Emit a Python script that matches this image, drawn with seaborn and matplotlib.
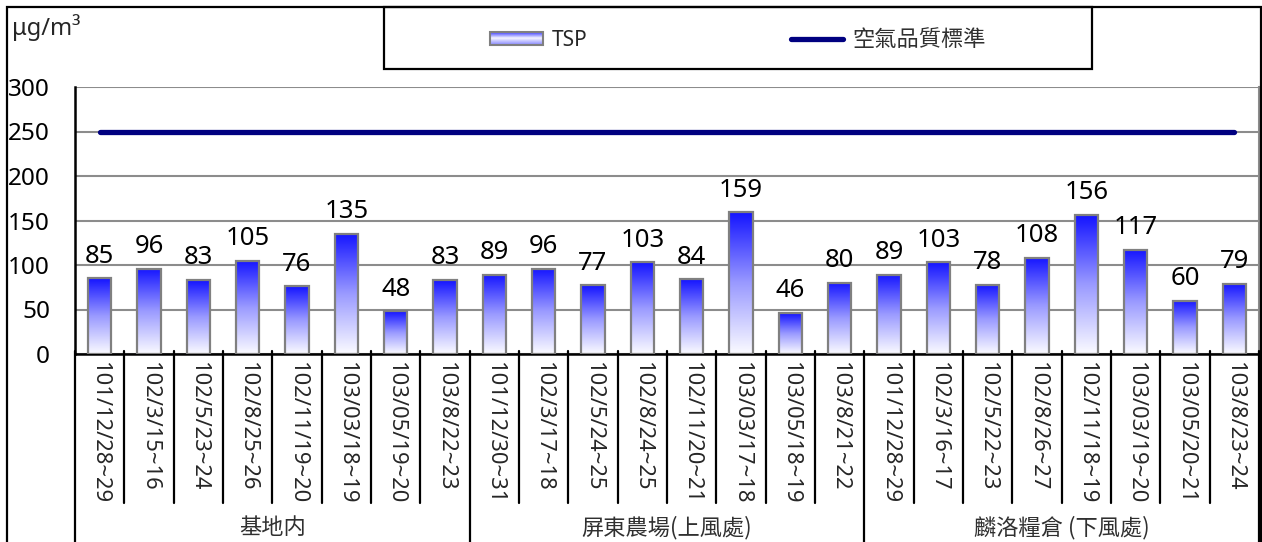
import numpy as np
import pandas as pd
import matplotlib
matplotlib.use("Agg")
import matplotlib.pyplot as plt
import seaborn as sns
from matplotlib.colors import LinearSegmentedColormap, to_rgb
from matplotlib.patches import Rectangle, Patch
from matplotlib.lines import Line2D
from matplotlib.legend_handler import HandlerBase
import matplotlib.transforms as mtransforms

# ---------------- data ----------------
dates = ["101/12/28~29", "102/3/15~16", "102/5/23~24", "102/8/25~26", "102/11/19~20",
         "103/03/18~19", "103/05/19~20", "103/8/22~23",
         "101/12/30~31", "102/3/17~18", "102/5/24~25", "102/8/24~25", "102/11/20~21",
         "103/03/17~18", "103/05/18~19", "103/8/21~22",
         "101/12/28~29", "102/3/16~17", "102/5/22~23", "102/8/26~27", "102/11/18~19",
         "103/03/19~20", "103/05/20~21", "103/8/23~24"]
tsp = [85, 96, 83, 105, 76, 135, 48, 83,
       89, 96, 77, 103, 84, 159, 46, 80,
       89, 103, 78, 108, 156, 117, 60, 79]
groups = ["基地内", "屏東農場(上風處)", "麟洛糧倉 (下風處)"]
group_sizes = [8, 8, 8]
standard_value = 250
standard = [standard_value] * len(tsp)
yticks = [0, 50, 100, 150, 200, 250, 300]
unit_label = "μg/m³"
legend_labels = ["TSP", "空氣品質標準"]

# ---------------- style ----------------
sns.set_style("white")
plt.rcParams["font.family"] = ["Noto Sans", "Noto Sans CJK TC", "DejaVu Sans"]
CJK = ["Noto Sans CJK TC", "DejaVu Sans"]

W, H = 1262, 542
fig = plt.figure(figsize=(W / 100, H / 100), dpi=100)
ax_l, ax_r, ax_t, ax_b = 75, 1259, 87, 354
ax = fig.add_axes([ax_l / W, 1 - ax_b / H, (ax_r - ax_l) / W, (ax_b - ax_t) / H])

df = pd.DataFrame({"idx": np.arange(len(tsp)), "TSP": tsp})
sns.barplot(data=df, x="idx", y="TSP", ax=ax, color="#3030ff",
            edgecolor="#808080", linewidth=1.6, width=0.47, zorder=3)

# gradient fill for bars
cmap = LinearSegmentedColormap.from_list("g", ["#fbfbff", "#9a9aff", "#1414ff"])
grad = np.linspace(0, 1, 256).reshape(-1, 1)
for p in ax.patches:
    x, y = p.get_x(), p.get_y()
    w, h = p.get_width(), p.get_height()
    im = ax.imshow(grad, extent=[x, x + w, y, y + h], origin="lower", aspect="auto",
                   cmap=cmap, zorder=2.9, interpolation="bilinear")
    im.set_clip_path(p)
    p.set_facecolor("none")

ax.bar_label(ax.containers[0], labels=[str(v) for v in tsp], padding=7, fontsize=18.5,
             color="black")

sns.lineplot(x=np.arange(len(standard)), y=standard, ax=ax, color="#000080",
             linewidth=3.8, zorder=4)

n = len(tsp)
ax.set_xlim(-0.5, n - 0.5)
ax.set_ylim(0, 300)
ax.set_yticks(yticks)
ax.set_yticklabels([str(v) for v in yticks], fontsize=17.5)
ax.set_xticks(np.arange(n))
ax.set_xticklabels(dates, rotation=270, fontsize=15.8)
ax.set_xlabel("")
ax.set_ylabel("")
ax.tick_params(axis="x", length=0, pad=6)
ax.tick_params(axis="y", direction="inout", length=6, width=1.5, pad=15, colors="black")

ax.grid(axis="y", color="#8c8c8c", linewidth=1.5, zorder=0)
ax.set_axisbelow(True)
for s in ["left", "bottom"]:
    ax.spines[s].set_color("black")
    ax.spines[s].set_linewidth(1.8)
ax.spines["top"].set_visible(False)
ax.spines["right"].set_color("#8c8c8c")
ax.spines["right"].set_linewidth(1.5)

# category separators and group boundaries below the axis
trans = mtransforms.blended_transform_factory(ax.transData, ax.transAxes)
ax_h = ax_b - ax_t
short_bottom = -(503 - ax_b) / ax_h
long_bottom = -(H + 5 - ax_b) / ax_h
bounds = np.cumsum([0] + group_sizes)
for k in range(n + 1):
    xb = k - 0.5
    yb = long_bottom if k in bounds else short_bottom
    ax.plot([xb, xb], [0.012, yb], transform=trans, color="black", lw=1.6,
            clip_on=False, zorder=5)

label_y = -(528 - ax_b) / ax_h
for g, a, b in zip(groups, bounds[:-1], bounds[1:]):
    ax.text((a + b - 1) / 2, label_y, g, transform=trans, ha="center", va="center",
            fontsize=16, family=CJK, color="#303030")

# unit label
fig.text(12 / W, 1 - 28 / H, unit_label, ha="left", va="center", fontsize=17)

# legend with gradient patch
class GradientHandler(HandlerBase):
    def create_artists(self, legend, orig_handle, xdescent, ydescent, width, height,
                       fontsize, trans):
        arts = []
        m = 14
        top = np.array(to_rgb("#2a2aff"))
        mid = np.array(to_rgb("#f4f4ff"))
        for i in range(m):
            t = i / (m - 1)
            if t < 0.5:
                c = np.array(to_rgb("#8c8cff")) * (1 - t * 2) + mid * (t * 2)
            else:
                c = mid * (1 - (t - 0.5) * 2) + top * ((t - 0.5) * 2)
            arts.append(Rectangle((-xdescent, -ydescent + i * height / m), width,
                                  height / m + 0.3, facecolor=c, edgecolor="none",
                                  transform=trans))
        arts.append(Rectangle((-xdescent, -ydescent), width, height, facecolor="none",
                              edgecolor="#808080", lw=1.5, transform=trans))
        return arts

bar_proxy = Patch(facecolor="#6060ff")
line_proxy = Line2D([], [], color="#000080", lw=3.8)
leg = fig.legend(handles=[bar_proxy, line_proxy], labels=legend_labels,
                 handler_map={Patch: GradientHandler()}, ncol=2, loc="center",
                 bbox_to_anchor=(738 / W, 1 - 39 / H), frameon=False, fontsize=15,
                 handlelength=2.5, handletextpad=0.42, columnspacing=9.8,
                 handleheight=0.6)
t2 = leg.get_texts()[1]
t2.set_fontfamily(CJK)
t2.set_fontsize(16)
t2.set_color("#303030")

fig.add_artist(Rectangle((384 / W, 1 - 69 / H), (1092 - 384) / W, 62 / H,
                         transform=fig.transFigure, fill=False, ec="black", lw=1.6))
fig.add_artist(Rectangle((7 / W, -0.02), (1260.5 - 7) / W, 1 - 7 / H + 0.02,
                         transform=fig.transFigure, fill=False, ec="black", lw=1.6,
                         clip_on=False))

fig.savefig("out.png", dpi=100)
